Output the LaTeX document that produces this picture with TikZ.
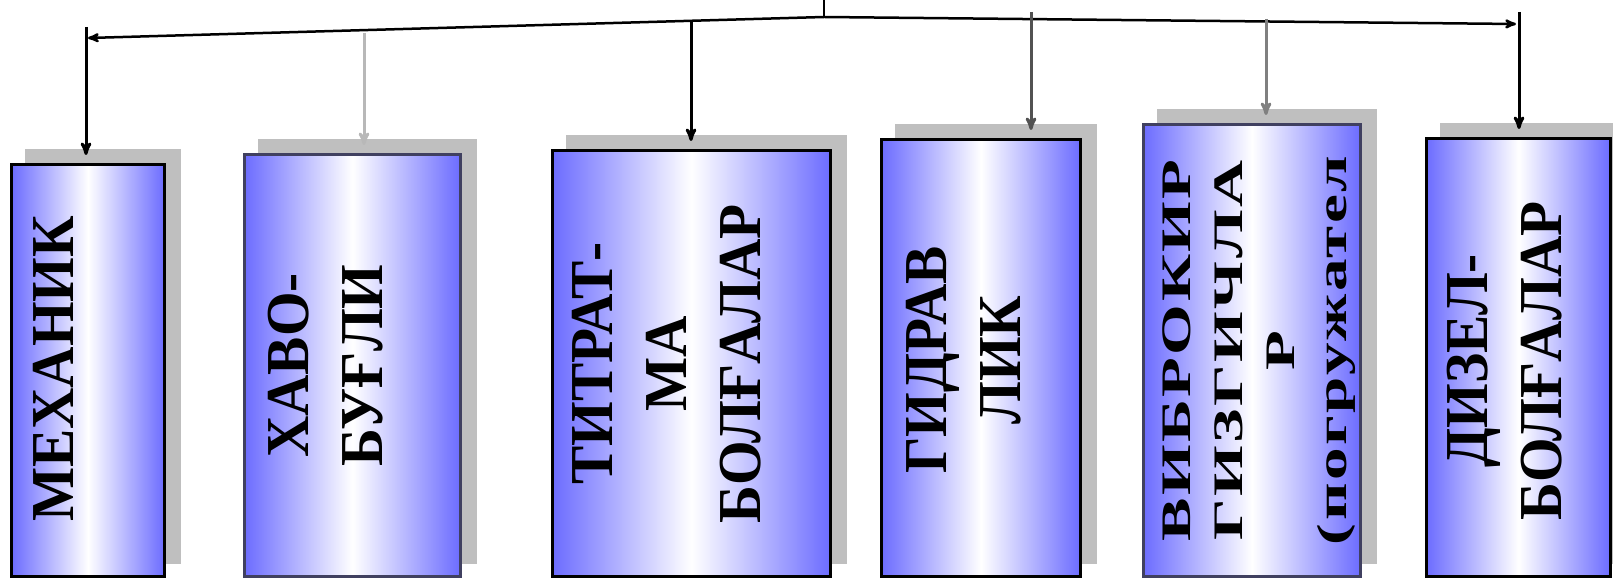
\documentclass[tikz,border=0pt]{standalone}
\usepackage{fontspec}
\newfontfamily\hammerFont{Liberation Serif}[FakeStretch=0.94]
\newfontfamily\hammerWide{Liberation Serif}[FakeStretch=1.55, LetterSpace=6]
\usepackage{xcolor}
\definecolor{colorHammer}{RGB}{108,108,255}
\colorlet{colorShadow}{black!25}
\definecolor{colorRim}{RGB}{64,64,96}
\colorlet{colorLinkLight}{black!28}
\colorlet{colorLinkMid}{black!50}
\colorlet{colorLinkDark}{black!68}
\usetikzlibrary{arrows, positioning, shadows}
\tikzset{hammer/.style={rectangle, draw=black, line width=3pt, left color=colorHammer, right color=colorHammer, middle color=white, anchor=south west, drop shadow={shadow xshift=15pt, shadow yshift=14pt, fill=colorShadow, draw=colorShadow, opacity=1}},
  hammer label/.style={rotate=90, align=center, inner sep=0pt, font=\hammerFont\bfseries\fontsize{61pt}{74pt}\selectfont}}

\begin{document}
\begin{tikzpicture}[>=stealth', x=1pt, y=1pt, line width=3pt]
\useasboundingbox (0,0) rectangle (1613,578);
\node[hammer, minimum width=153pt, minimum height=412pt] (b1) at (10,0) {};
\node[hammer, draw=colorRim, minimum width=216pt, minimum height=422pt, right=77pt of b1.south east, anchor=south west] (b2) {};
\node[hammer, minimum width=278pt, minimum height=426pt, right=89pt of b2.south east, anchor=south west] (b3) {};
\node[hammer, minimum width=199pt, minimum height=437pt, right=48pt of b3.south east, anchor=south west] (b4) {};
\node[hammer, draw=colorRim, minimum width=217pt, minimum height=452pt, right=60pt of b4.south east, anchor=south west] (b5) {};
\node[hammer, minimum width=184pt, minimum height=438pt, right=63pt of b5.south east, anchor=south west] (b6) {};
\node[hammer label] (t1) at ([xshift=-35pt, yshift=1.5pt]b1.center) {МЕХАНИК};
\node[hammer label] (t2) at ([xshift=-26.5pt]b2.center) {ХАВО-\\БУҒЛИ};
\node[hammer label] (t3) at ([xshift=-25pt]b3.center) {ТИТРАТ-\\МА\\БОЛҒАЛАР};
\node[hammer label] (t4) at ([xshift=-17pt, yshift=-2pt]b4.center) {ГИДРАВ\\ЛИК};
\node[hammer label, font=\hammerWide\bfseries\fontsize{42pt}{52pt}\selectfont] (t5) at ([xshift=7pt]b5.center) {ВИБРОКИР\\ГИЗГИЧЛА\\Р\\(погружател};
\node[hammer label] (t6) at ([xshift=-14pt, yshift=-3.5pt]b6.center) {ДИЗЕЛ-\\БОЛҒАЛАР};
\coordinate (feed) at (824,578);
\coordinate (hub) at (824,561);
\coordinate (endL) at (88,540);
\coordinate (endR) at (1516,554);
\coordinate (top1) at (86,551);
\coordinate (top2) at (364,545);
\coordinate (top3) at (691,558);
\coordinate (top4) at (1031,566);
\coordinate (top5) at (1266,559);
\coordinate (top6) at (1519,566);
\draw[line width=2.5pt] (feed) -- (hub);
\draw[->, line width=2.5pt] (hub) -- (endL);
\draw[->, line width=2.5pt] (hub) -- (endR);
\draw[->] (top1) -- ([yshift=8pt]b1.north -| top1);
\draw[->, colorLinkLight] (top2) -- ([yshift=8pt]b2.north -| top2);
\draw[->] (top3) -- ([yshift=8pt]b3.north -| top3);
\draw[->, colorLinkDark] (top4) -- ([yshift=8pt]b4.north -| top4);
\draw[->, colorLinkMid] (top5) -- ([yshift=8pt]b5.north -| top5);
\draw[->] (top6) -- ([yshift=8pt]b6.north -| top6);
\end{tikzpicture}
\end{document}
